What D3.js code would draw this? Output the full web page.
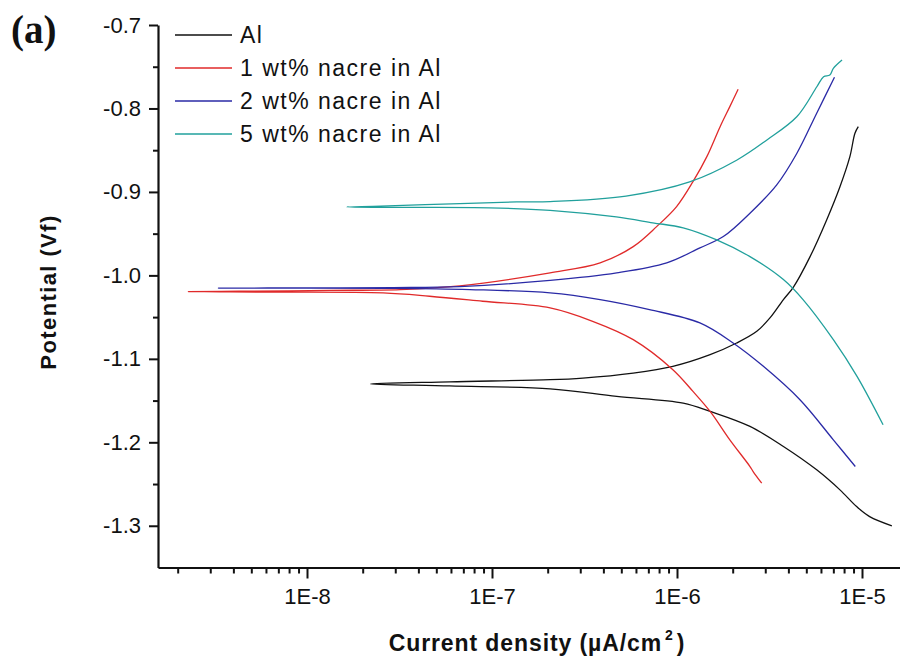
<!DOCTYPE html>
<html>
<head>
<meta charset="utf-8">
<script src="https://cdn.jsdelivr.net/npm/d3@7"></script>
<style>
  html, body { margin: 0; padding: 0; background: #fff; }
  svg { display: block; }
</style>
</head>
<body>
<svg id="chart" width="900" height="667" font-family="'Liberation Sans', Arial, sans-serif"></svg>
<script>
// Tick values and their printed labels
const currentTicks = [1e-8, 1e-7, 1e-6, 1e-5];
const currentTickLabels = ["1E-8", "1E-7", "1E-6", "1E-5"];
const potentialTicks = [-0.7, -0.8, -0.9, -1.0, -1.1, -1.2, -1.3];
const potentialTickLabels = ["-0.7", "-0.8", "-0.9", "-1.0", "-1.1", "-1.2", "-1.3"];
const potentialMinorTicks = [-0.75, -0.85, -0.95, -1.05, -1.15, -1.25];

const seriesNames = ["Al", "1 wt% nacre in Al", "2 wt% nacre in Al", "5 wt% nacre in Al"];

// Polarisation curves: cathodic end -> corrosion potential -> anodic end
const alCurrent = [1.45e-5, 1.10e-5, 9.35e-6, 7.6e-6, 5.69e-6, 3.76e-6, 2.48e-6, 1.51e-6, 1.08e-6, 4.72e-7, 2.06e-7, 5.9e-8, 2.2e-8,
                   5.9e-8, 2.06e-7, 3.1e-7, 5.8e-7, 9.5e-7, 1.51e-6, 2.1e-6, 2.7e-6, 3.18e-6, 3.76e-6, 4.26e-6, 5.24e-6, 6.44e-6, 7.6e-6, 8.6e-6, 9.16e-6, 9.55e-6];
const alPotential = [-1.300, -1.289, -1.277, -1.257, -1.233, -1.205, -1.181, -1.163, -1.153, -1.145, -1.136, -1.1325, -1.130,
                     -1.1275, -1.125, -1.123, -1.117, -1.109, -1.095, -1.081, -1.067, -1.051, -1.029, -1.014, -0.9775, -0.9335, -0.8937, -0.8577, -0.8297, -0.8218];

const nacre1Current = [2.87e-6, 2.58e-6, 2.48e-6, 1.93e-6, 1.51e-6, 1.22e-6, 9.5e-7, 5.8e-7, 3.5e-7, 2.06e-7, 8.9e-8, 4.6e-8, 2.58e-8, 6.3e-9, 2.28e-9,
                       4.3e-9, 1.33e-8, 3.2e-8, 6.7e-8, 2.06e-7, 3.84e-7, 5.8e-7, 7.76e-7, 9.95e-7, 1.22e-6, 1.45e-6, 1.71e-6, 1.93e-6, 2.14e-6];
const nacre1Potential = [-1.249, -1.235, -1.229, -1.197, -1.163, -1.139, -1.113, -1.077, -1.055, -1.039, -1.031, -1.025, -1.021, -1.020, -1.0194,
                         -1.019, -1.018, -1.017, -1.0126, -0.997, -0.985, -0.9655, -0.9416, -0.9176, -0.8877, -0.8577, -0.8218, -0.7978, -0.777];

const nacre2Current = [9.2e-6, 7.0e-6, 4.62e-6, 2.93e-6, 2.01e-6, 1.33e-6, 7.1e-7, 3.84e-7, 2.06e-7, 7.6e-8, 2.92e-8, 3.32e-9,
                       9.2e-9, 2.92e-8, 6.7e-8, 2.06e-7, 4.72e-7, 8.8e-7, 1.33e-6, 1.78e-6, 2.48e-6, 3.46e-6, 4.44e-6, 5.69e-6, 7.1e-6];
const nacre2Potential = [-1.229, -1.197, -1.149, -1.109, -1.081, -1.057, -1.041, -1.029, -1.021, -1.017, -1.0155, -1.0153,
                         -1.015, -1.0146, -1.0134, -1.006, -0.997, -0.985, -0.967, -0.9535, -0.9255, -0.8916, -0.854, -0.8057, -0.7626];

const nacre5Current = [1.30e-5, 9.4e-6, 7.0e-6, 4.8e-6, 3.76e-6, 2.48e-6, 1.64e-6, 1.08e-6, 7.4e-7, 4.7e-7, 2.06e-7, 9.7e-8, 3.2e-8, 1.64e-8,
                       2.5e-8, 6.7e-8, 1.36e-7, 2.06e-7, 5.3e-7, 1.17e-6, 2.1e-6, 3.05e-6, 4.44e-6, 5.7e-6, 6.2e-6, 6.7e-6, 7.0e-6, 7.8e-6];
const nacre5Potential = [-1.179, -1.121, -1.077, -1.029, -1.005, -0.9775, -0.9575, -0.943, -0.937, -0.930, -0.922, -0.919, -0.9185, -0.918,
                         -0.917, -0.914, -0.912, -0.9116, -0.905, -0.888, -0.862, -0.838, -0.810, -0.774, -0.762, -0.760, -0.752, -0.742];

const seriesColors = ["#111111", "#e02a2a", "#2a2aa6", "#21a09c"];

const svg = d3.select("#chart");
const ink = "#111";

// Scales: decades are evenly spaced; the axis runs from the y axis to the right edge
const axisLeftX = 158, axisRightX = 900, axisBottomY = 567.5;
const x = d3.scaleLog().domain([1e-8, 1e-5]).range([307, 862]);
x.domain([x.invert(axisLeftX), x.invert(axisRightX)]).range([axisLeftX, axisRightX]);
const y = d3.scaleLinear().domain([-1.35, -0.7]).range([axisBottomY, 25]);

// Minor ticks on the log axis (2..9 of each decade)
const xMinor = [];
for (let e = -10; e <= -5; e++) {
  for (let m = 2; m <= 9; m++) {
    const v = m * Math.pow(10, e);
    if (v > x.domain()[0] && v < x.domain()[1]) xMinor.push(v);
  }
}

// X axis
const gxMinor = svg.append("g").attr("transform", `translate(0,${axisBottomY})`);
gxMinor.call(d3.axisBottom(x).tickValues(xMinor).tickSize(6).tickSizeOuter(0).tickFormat(""));
gxMinor.selectAll(".tick line").attr("stroke", ink).attr("stroke-width", 2);
gxMinor.select(".domain").remove();

const gx = svg.append("g").attr("transform", `translate(0,${axisBottomY})`);
gx.call(d3.axisBottom(x).tickValues(currentTicks).tickSize(11).tickSizeOuter(0).tickPadding(10)
  .tickFormat((d, i) => currentTickLabels[i]));
gx.selectAll(".tick line").attr("stroke", ink).attr("stroke-width", 2);
gx.selectAll(".tick text").attr("font-size", 22).attr("fill", ink)
  .attr("font-family", "'Liberation Sans', Arial, sans-serif").attr("dy", "0.71em");
gx.select(".domain").attr("stroke", ink).attr("stroke-width", 2.2);

// Y axis
const gyMinor = svg.append("g").attr("transform", `translate(${axisLeftX},0)`);
gyMinor.call(d3.axisLeft(y).tickValues(potentialMinorTicks).tickSize(5).tickSizeOuter(0).tickFormat(""));
gyMinor.selectAll(".tick line").attr("stroke", ink).attr("stroke-width", 2);
gyMinor.select(".domain").remove();

const gy = svg.append("g").attr("transform", `translate(${axisLeftX},0)`);
gy.call(d3.axisLeft(y).tickValues(potentialTicks).tickSize(9).tickSizeOuter(0).tickPadding(8)
  .tickFormat((d, i) => potentialTickLabels[i]));
gy.selectAll(".tick line").attr("stroke", ink).attr("stroke-width", 2);
gy.selectAll(".tick text").attr("font-size", 22).attr("fill", ink)
  .attr("font-family", "'Liberation Sans', Arial, sans-serif");
gy.select(".domain").attr("stroke", ink).attr("stroke-width", 2.2);

// Curves
const seriesData = [
  d3.zip(alCurrent, alPotential),
  d3.zip(nacre1Current, nacre1Potential),
  d3.zip(nacre2Current, nacre2Potential),
  d3.zip(nacre5Current, nacre5Potential)
];
const line = d3.line().x(d => x(d[0])).y(d => y(d[1])).curve(d3.curveCatmullRom.alpha(0.5));
svg.append("g").selectAll("path").data(seriesData).join("path")
  .attr("d", line)
  .attr("fill", "none")
  .attr("stroke", (d, i) => seriesColors[i])
  .attr("stroke-width", 1.3)
  .attr("stroke-linejoin", "round");

// Legend
const legend = svg.append("g");
seriesNames.forEach((name, i) => {
  const cy = 35 + i * 33;
  legend.append("line").attr("x1", 175).attr("x2", 232).attr("y1", cy).attr("y2", cy)
    .attr("stroke", seriesColors[i]).attr("stroke-width", 1.3);
  legend.append("text").attr("x", 240).attr("y", cy + 8).attr("fill", ink)
    .attr("font-size", 23).attr("letter-spacing", 1.5).text(name);
});

// Axis titles
svg.append("text")
  .attr("transform", "translate(56,292) rotate(-90)")
  .attr("text-anchor", "middle").attr("fill", ink)
  .attr("font-size", 22).attr("font-weight", "bold").attr("letter-spacing", 1.4)
  .text("Potential (Vf)");

const xt = svg.append("text").attr("x", 537).attr("y", 651).attr("text-anchor", "middle").attr("fill", ink)
  .attr("font-size", 23).attr("font-weight", "bold").attr("letter-spacing", 0.9);
xt.append("tspan").text("Current density (\u00B5A/cm");
xt.append("tspan").attr("dy", -11).attr("font-size", 14).attr("dx", 3).text("2");
xt.append("tspan").attr("dy", 11).attr("dx", 3).text(")");

// Panel tag
svg.append("text").attr("x", 11).attr("y", 43).attr("fill", ink)
  .attr("font-family", "'Liberation Serif', 'Times New Roman', serif")
  .attr("font-size", 39).attr("font-weight", "bold").text("(a)");
</script>
</body>
</html>
